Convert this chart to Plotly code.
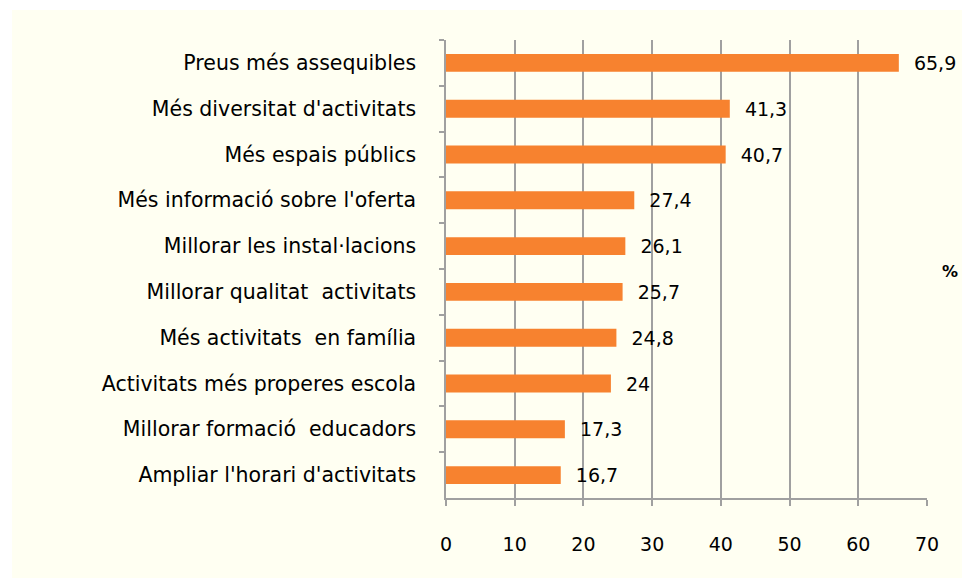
import plotly.graph_objects as go

categories = [
    "Preus més assequibles",
    "Més diversitat d'activitats",
    "Més espais públics",
    "Més informació sobre l'oferta",
    "Millorar les instal·lacions",
    "Millorar qualitat  activitats",
    "Més activitats  en família",
    "Activitats més properes escola",
    "Millorar formació  educadors",
    "Ampliar l'horari d'activitats",
]
values = [65.9, 41.3, 40.7, 27.4, 26.1, 25.7, 24.8, 24, 17.3, 16.7]
labels = ["  " + ("%g" % v).replace(".", ",") for v in values]
x_ticks = [0, 10, 20, 30, 40, 50, 60, 70]

W, H = 962, 578
L, R, T, B = 446, 35, 40, 80
pw, ph = W - L - R, H - T - B
cream = "#FFFFF2"
font = "DejaVu Sans"

fig = go.Figure(go.Bar(
    x=values, y=categories, orientation="h",
    marker=dict(color="#F7822F", line=dict(width=0)),
    text=labels, textposition="outside", cliponaxis=False, constraintext="none",
    textfont=dict(family=font, size=19, color="#000000"),
))

fig.update_layout(
    width=W, height=H,
    margin=dict(l=L, r=R, t=T, b=B),
    paper_bgcolor=cream, plot_bgcolor=cream,
    bargap=0.61, showlegend=False,
    font=dict(family=font, size=20, color="#000000"),
    xaxis=dict(range=[0, 70], tickvals=x_ticks, showgrid=True, gridcolor="#A0A0A0", gridwidth=1.5,
               zeroline=False, showline=True, linecolor="#A0A0A0", linewidth=1.5,
               ticks="outside", ticklen=6, tickcolor="#A0A0A0", tickwidth=1.5,
               ticklabelstandoff=22, tickfont=dict(size=19)),
    yaxis=dict(autorange="reversed", showgrid=False, showline=True, linecolor="#A0A0A0", linewidth=1.5,
               ticks="outside", ticklen=5, tickcolor="#A0A0A0", tickwidth=1.5, tickson="boundaries",
               ticklabelstandoff=24, tickfont=dict(size=20.5)),
    annotations=[dict(text="<b>%</b>", xref="paper", yref="paper",
                      x=(950 - L) / pw, y=(H - B - 271) / ph, showarrow=False,
                      font=dict(size=16, family=font), xanchor="center", yanchor="middle")],
    shapes=[
        dict(type="rect", xref="paper", yref="paper", layer="below",
             x0=-L / pw - 0.1, x1=(12 - L) / pw, y0=-B / ph - 0.1, y1=(H - B) / ph + 0.1,
             fillcolor="white", line=dict(width=0)),
        dict(type="rect", xref="paper", yref="paper", layer="below",
             x0=-L / pw - 0.1, x1=(W - L) / pw + 0.1, y0=(H - B - 10) / ph, y1=(H - B) / ph + 0.1,
             fillcolor="white", line=dict(width=0)),
    ],
)

# remove the page's default body margin so the figure fills the window exactly
fig.write_html("out.html", config={"displayModeBar": False},
               post_script="document.body.style.margin='0';document.body.style.overflow='hidden';")
